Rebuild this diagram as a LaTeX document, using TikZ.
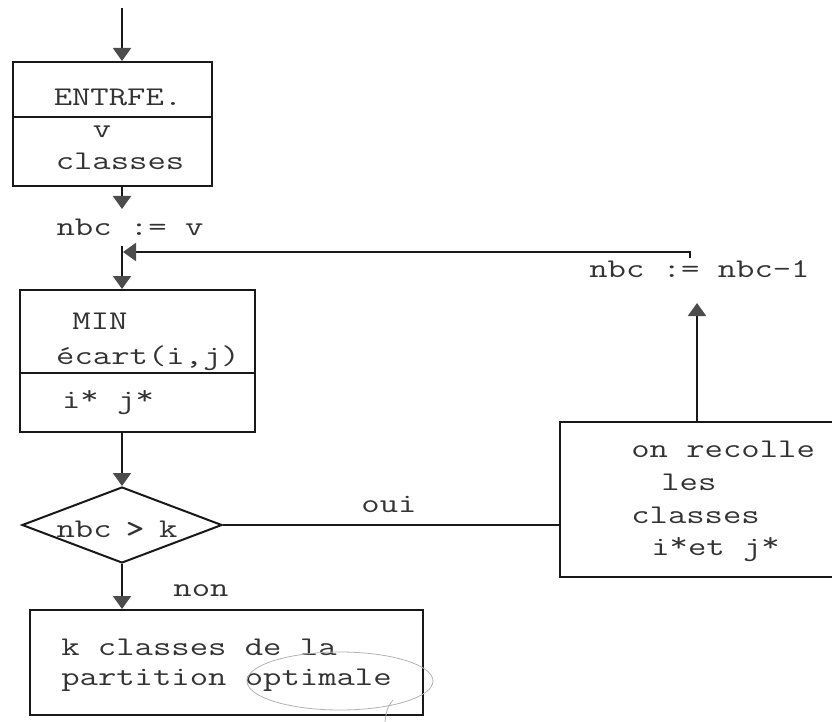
\documentclass[tikz,border=0pt]{standalone}
\usepackage{fontspec}
\usetikzlibrary{arrows.meta,shapes.geometric}
\newcommand{\twfont}{\ttfamily\fontsize{27}{32}\selectfont}
\newcommand{\supstar}{\raisebox{4pt}{*}}
\begin{document}
\begin{tikzpicture}[x=1pt,y=-1pt,
  line width=2pt, draw=black!90,
  box/.style={draw, rectangle, inner sep=0pt},
  lbl/.style={anchor=base, inner sep=0pt, font=\twfont, text=black!80, xscale=1.32, transform shape},
  lblw/.style={lbl, anchor=base west},
  arr/.style={-{Triangle[width=18pt,length=13pt,color=black!70]}},
  pencil/.style={draw=gray!60, line width=0.8pt}
]
\clip (0,0) rectangle (832,722);
% boxes
\node[box, minimum width=199pt, minimum height=124pt] (entree) at (112.5,124) {};
\draw (13,117) -- (212,117);
\node[box, minimum width=235pt, minimum height=142pt] (minbox) at (137.5,361) {};
\draw (20,373) -- (255,373);
\node[draw, diamond, inner sep=0pt, minimum width=200pt, minimum height=76pt] (test) at (122,525) {};
\node[box, minimum width=290pt, minimum height=155pt] (recolle) at (705,499.5) {};
\node[box, minimum width=393pt, minimum height=105pt] (final) at (226.5,662.5) {};
% texts
\node[lbl] (t1) at (118,106) {ENTRFE.};
\node[lbl] (t2) at (102,138) {v};
\node[lbl] (t3) at (120,170) {classes};
\node[lbl] (nbcv) at (130,235) {nbc := v};
\node[lbl] (t4) at (100,329) {MIN};
\node[lbl] (t5) at (148,364) {écart(i,j)};
\node[lbl] (t6) at (108,408) {i\supstar{} j\supstar};
\node[lbl] (t7) at (117,537) {nbc\hspace{-3pt} {\bfseries >}\hspace{-3pt} k};
\node[lbl] (oui) at (389,512) {oui};
\node[lbl] (non) at (201,596) {non};
\node[lblw] (t8) at (588,277) {nbc := nbc-1};
\node[lblw] (r1) at (630,457) {on recolle};
\node[lblw] (r2) at (660,490) {les};
\node[lblw] (r3) at (630,523) {classes};
\node[lblw] (r4) at (650,555) {i\supstar et j\supstar};
\node[lblw] (f1) at (60,655) {k classes de la};
\node[lblw] (f2) at (60,685) {partition optimale};
% coordinates
\coordinate (start) at (122,8);
\coordinate (a1) at (122,209);
\coordinate (j) at (122,246);
\coordinate (jm) at (123,252);
\coordinate (fb) at (690,258);
\coordinate (dtip) at (697,303);
% connectors
\draw[arr] (start) -- (start |- entree.north);
\draw[arr] (start |- entree.south) -- (a1);
\draw[arr] (j) -- (j |- minbox.north);
\draw[arr] (fb) |- (jm);
\draw[arr] (start |- minbox.south) -- (test.north);
\draw (test.east) -- (test.east -| recolle.west);
\draw[arr] (dtip |- recolle.north) -- (dtip);
\draw[arr] (test.south) -- (test.south |- final.north);
% pencil marks
\draw[pencil] (340,681) ellipse [x radius=93pt, y radius=29pt];
\draw[pencil] (393,700) .. controls (387,708) .. (385,722);
\end{tikzpicture}
\end{document}
